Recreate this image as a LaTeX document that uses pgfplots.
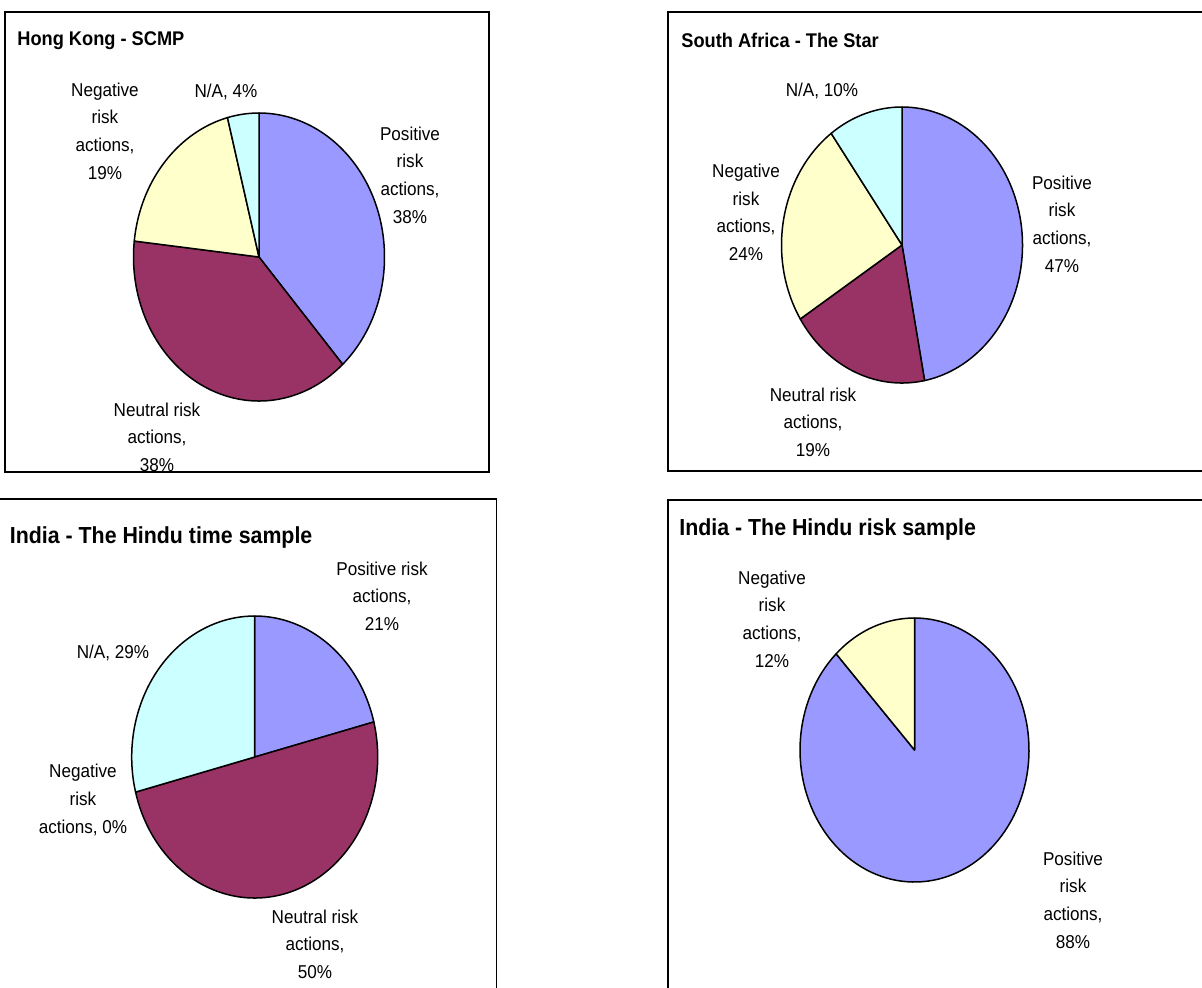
\documentclass[border=0pt]{standalone}
\usepackage{pgfplots}
\pgfplotsset{compat=1.18}
\usepackage{fontspec}
\setmainfont{Liberation Sans}
\newfontfamily\condfont[FakeStretch=0.92]{Liberation Sans}
\definecolor{posc}{HTML}{9999FF}
\definecolor{neuc}{HTML}{993366}
\definecolor{negc}{HTML}{FFFFCC}
\definecolor{nac}{HTML}{CCFFFF}
% slice: colour, cumulative start, value, total  (clockwise from 12 o'clock)
\newcommand\slice[4]{%
  \pgfmathsetmacro\aA{90-((#2+#3)/#4)*360}%
  \pgfmathsetmacro\aB{90-((#2)/#4)*360}%
  \edef\tmp{\noexpand\addplot[draw=black,line width=0.75pt,line join=round,fill=#1,domain=\aA:\aB,samples=120]}%
  \tmp ({cos(x)},{sin(x)}) -- (axis cs:0,0) -- cycle;%
}
\pgfplotsset{pieax/.style={anchor=center,xmin=-1,xmax=1,ymin=-1,ymax=1,hide axis,clip=false}}
\tikzset{lab/.style={align=center,inner sep=0pt,font=\condfont\fontsize{9.3}{13.8}\selectfont},
         ttl/.style={anchor=west,inner sep=0pt,font=\condfont\bfseries\fontsize{9.9}{11}\selectfont},
         ttlb/.style={anchor=west,inner sep=0pt,font=\condfont\bfseries\fontsize{11.6}{13}\selectfont}}
\begin{document}
\begin{tikzpicture}
\clip (0pt,0pt) rectangle (601pt,-493.5pt);
\fill[white] (0pt,0pt) rectangle (601pt,-493.5pt);
% ---------- Hong Kong - SCMP : Positive 38, Neutral 38, Negative 19, N/A 4
\begin{axis}[pieax, at={(129.5pt,-128.5pt)}, x=62.75pt, y=72pt]
\slice{posc}{0}{38}{99}
\slice{neuc}{38}{38}{99}
\slice{negc}{76}{19}{99}
\slice{nac}{95}{4}{99}
\end{axis}
% ---------- South Africa - The Star : 47, 19, 24, 10
\begin{axis}[pieax, at={(451pt,-122.5pt)}, x=60.25pt, y=69pt]
\slice{posc}{0}{47}{100}
\slice{neuc}{47}{19}{100}
\slice{negc}{66}{24}{100}
\slice{nac}{90}{10}{100}
\end{axis}
% ---------- India - The Hindu time sample : 21, 50, 0, 29
\begin{axis}[pieax, at={(127.35pt,-378.5pt)}, x=61.5pt, y=70.5pt]
\slice{posc}{0}{21}{100}
\slice{neuc}{21}{50}{100}
\slice{nac}{71}{29}{100}
\end{axis}
% ---------- India - The Hindu risk sample : 88, 0, 12, 0
\begin{axis}[pieax, at={(457.25pt,-375pt)}, x=57.25pt, y=66pt]
\slice{posc}{0}{88}{100}
\slice{negc}{88}{12}{100}
\end{axis}
\begin{scope}[x=0.5pt,y=-0.5pt]
\draw[line width=0.65pt] (5,12) rectangle (489,472);
\draw[line width=0.65pt] (668,12) rectangle (1215,471);
\draw[line width=0.65pt] (-10,499) rectangle (496.5,1000);
\draw[line width=0.65pt] (668,500) rectangle (1215,1000);
\node[ttl] at (17,41) {Hong Kong - SCMP};
\node[ttl] at (681,40) {South Africa - The Star};
\node[ttlb] at (9.5,537) {India - The Hindu time sample};
\node[ttlb] at (679,529) {India - The Hindu risk sample};
% labels HK
\node[lab] at (410,175) {Positive\\risk\\actions,\\38\%};
\node[lab] at (157,437) {Neutral risk\\actions,\\38\%};
\node[lab] at (105,131) {Negative\\risk\\actions,\\19\%};
\node[lab] at (226,92) {N/A, 4\%};
% labels SA
\node[lab] at (822,91) {N/A, 10\%};
\node[lab] at (746,212.5) {Negative\\risk\\actions,\\24\%};
\node[lab] at (1062,224) {Positive\\risk\\actions,\\47\%};
\node[lab] at (813,422) {Neutral risk\\actions,\\19\%};
% labels time sample
\node[lab] at (382,596) {Positive risk\\actions,\\21\%};
\node[lab] at (113,653) {N/A, 29\%};
\node[lab] at (83,800) {Negative\\risk\\actions, 0\%};
\node[lab] at (315,944) {Neutral risk\\actions,\\50\%};
% labels risk sample
\node[lab] at (772,619) {Negative\\risk\\actions,\\12\%};
\node[lab] at (1073,900) {Positive\\risk\\actions,\\88\%};
\end{scope}
\end{tikzpicture}
\end{document}
